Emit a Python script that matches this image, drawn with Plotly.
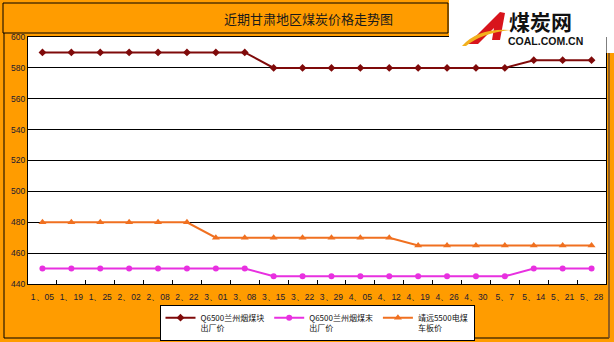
import plotly.graph_objects as go

categories = ["1、05", "1、19", "1、25", "2、02", "2、08", "2、22", "3、01", "3、08", "3、15", "3、22",
              "3、29", "4、05", "4、12", "4、19", "4、26", "4、30", "5、7", "5、14", "5、21", "5、28"]
lump_price = [590, 590, 590, 590, 590, 590, 590, 590, 580, 580,
              580, 580, 580, 580, 580, 580, 580, 585, 585, 585]
fine_price = [450, 450, 450, 450, 450, 450, 450, 450, 445, 445,
              445, 445, 445, 445, 445, 445, 445, 450, 450, 450]
jingyuan_price = [480, 480, 480, 480, 480, 480, 470, 470, 470, 470,
                  470, 470, 470, 465, 465, 465, 465, 465, 465, 465]
series_names = ["Q6500兰州烟煤块<br>出厂价", "Q6500兰州烟煤末<br>出厂价", "靖远5500电煤<br>车板价"]
y_ticks = [440, 460, 480, 500, 520, 540, 560, 580, 600]

W, H = 614, 342
L, R, T, B = 28, 606, 37, 284
ORANGE = "#FF9C00"


def px(x):
    return (x - L) / (R - L)


def py(y):
    return (B - y) / (B - T)


fig = go.Figure()
fig.add_trace(go.Scatter(x=categories, y=lump_price, name=series_names[0], mode="lines+markers",
                         line=dict(color="#7F0A0A", width=2),
                         marker=dict(symbol="diamond", size=6, color="#7F0A0A")))
fig.add_trace(go.Scatter(x=categories, y=fine_price, name=series_names[1], mode="lines+markers",
                         line=dict(color="#E830E0", width=2),
                         marker=dict(symbol="circle", size=6, color="#E830E0")))
fig.add_trace(go.Scatter(x=categories, y=jingyuan_price, name=series_names[2], mode="lines+markers",
                         line=dict(color="#F07020", width=2),
                         marker=dict(symbol="triangle-up", size=7, color="#F07020")))

shapes = [
    # title bar
    dict(type="rect", xref="paper", yref="paper", x0=px(3), x1=px(448), y0=py(33), y1=py(3),
         fillcolor=ORANGE, line=dict(color="black", width=1)),
    # white logo area
    dict(type="rect", xref="paper", yref="paper", x0=px(449), x1=px(614), y0=py(37), y1=py(0),
         fillcolor="white", line=dict(width=0)),
    dict(type="rect", xref="paper", yref="paper", x0=px(606.5), x1=px(614), y0=py(53), y1=py(37),
         fillcolor="white", line=dict(width=0)),
    # outer border
    dict(type="line", xref="paper", yref="paper", x0=px(4), x1=px(4), y0=py(33), y1=py(338),
         line=dict(color="black", width=1)),
    dict(type="line", xref="paper", yref="paper", x0=px(4), x1=px(609), y0=py(338), y1=py(338),
         line=dict(color="black", width=1)),
    dict(type="line", xref="paper", yref="paper", x0=px(609), x1=px(609), y0=py(53), y1=py(338),
         line=dict(color="#6B4A2A", width=1.5)),
    # logo red "A"
    dict(type="path", xref="paper", yref="paper",
         path=(f"M {px(468)},{py(44)} L {px(500)},{py(12)} L {px(505)},{py(13)} "
               f"L {px(500)},{py(40)} L {px(492)},{py(40)} L {px(494)},{py(28)} L {px(478)},{py(44)} Z"),
         fillcolor="#D8141C", line=dict(width=0)),
    # logo yellow swoosh
    dict(type="path", xref="paper", yref="paper",
         path=(f"M {px(462)},{py(46)} Q {px(478)},{py(28)} {px(510)},{py(30)} "
               f"Q {px(482)},{py(33)} {px(466)},{py(46)} Z"),
         fillcolor="#F2B01E", line=dict(width=0)),
]

annotations = [
    dict(text="近期甘肃地区煤炭价格走势图", xref="paper", yref="paper", x=px(308), y=py(19),
         xanchor="center", yanchor="middle", showarrow=False,
         font=dict(family="Noto Sans CJK SC", size=13, color="#1a1a1a")),
    dict(text="<b>煤炭网</b>", xref="paper", yref="paper", x=px(507), y=py(21),
         xanchor="left", yanchor="middle", showarrow=False,
         font=dict(family="Noto Sans CJK SC", size=21, color="#111111")),
    dict(text="<b>COAL.COM.CN</b>", xref="paper", yref="paper", x=px(506), y=py(41),
         xanchor="left", yanchor="middle", showarrow=False,
         font=dict(family="Liberation Sans", size=10.5, color="#111111")),
]

fig.update_layout(
    width=W, height=H,
    margin=dict(l=L, r=W - R, t=T, b=H - B, autoexpand=False),
    paper_bgcolor=ORANGE, plot_bgcolor="white",
    showlegend=True,
    legend=dict(orientation="h", x=0.5, xanchor="center", y=py(305), yanchor="top",
                bgcolor="white", bordercolor="black", borderwidth=1,
                font=dict(family="Noto Sans CJK SC", size=8, color="#111"),
                itemwidth=30, tracegroupgap=0, valign="top"),
    shapes=shapes, annotations=annotations,
    xaxis=dict(type="category", range=[-0.5, len(categories) - 0.5], showgrid=False,
               showline=True, linecolor="black", linewidth=1, mirror=True,
               ticks="inside", tickson="boundaries", ticklen=4, tickcolor="black",
               tickangle=0, automargin=False, ticklabelstandoff=5,
               tickfont=dict(family="Liberation Sans", size=8.5, color="#1a1a33"),
               fixedrange=True),
    yaxis=dict(range=[440, 600], tickvals=y_ticks, showgrid=True, gridcolor="black", gridwidth=1,
               showline=True, linecolor="black", linewidth=1, mirror=True, zeroline=False,
               ticks="", automargin=False,
               tickfont=dict(family="Liberation Sans", size=8.5, color="#1a1a33"),
               fixedrange=True),
)

fig.write_html("out.html")
